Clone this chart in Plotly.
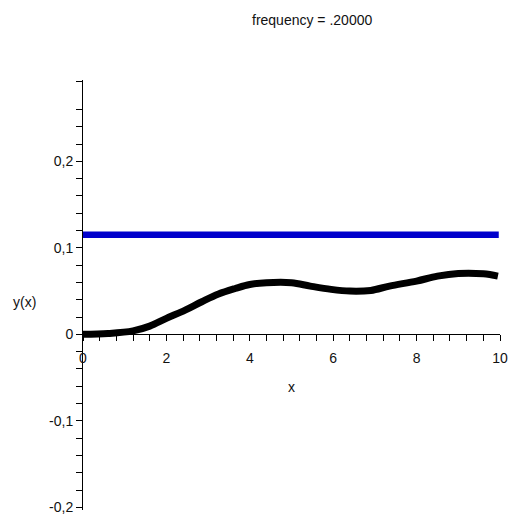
import plotly.graph_objects as go

# ---- data ----
curve_x = [0, 0.6, 1.2, 1.6, 2.0, 2.45, 2.85, 3.25, 3.65, 4.0, 4.4, 5.0,
           5.45, 5.95, 6.4, 6.9, 7.35, 8.0, 8.5, 9.0, 9.6, 9.95]
curve_y = [0, 0.001, 0.004, 0.0095, 0.0185, 0.028, 0.0377, 0.0466, 0.053,
           0.0577, 0.0597, 0.0597, 0.0558, 0.052, 0.050, 0.0508, 0.0558,
           0.0616, 0.0673, 0.0704, 0.070, 0.0673]
level_x = [0, 9.97]
level_y = [0.115, 0.115]

x_tickvals = [0, 2, 4, 6, 8, 10]
x_ticktext = ["0", "2", "4", "6", "8", "10"]
y_tickvals = [-0.2, -0.1, 0, 0.1, 0.2]
y_ticktext = ["-0,2", "-0,1", "0", "0,1", "0,2"]
y_minor = [-0.18, -0.16, -0.14, -0.12, -0.08, -0.06, -0.04, -0.02,
           0.02, 0.04, 0.06, 0.08, 0.12, 0.14, 0.16, 0.18,
           0.22, 0.24, 0.26, 0.292]
title_text = "frequency = .20000"
x_label = "x"
y_label = "y(x)"

Y_MIN, Y_MAX = -0.203, 0.294
FONT = "Liberation Sans, Arial, Helvetica, sans-serif"

fig = go.Figure()
fig.add_trace(go.Scatter(x=level_x, y=level_y, mode="lines",
                         line=dict(color="#0000cc", width=6.5),
                         showlegend=False, hoverinfo="skip"))
fig.add_trace(go.Scatter(x=curve_x, y=curve_y, mode="lines",
                         line=dict(color="#000000", width=7, shape="spline"),
                         showlegend=False, hoverinfo="skip"))

fig.update_layout(
    width=510, height=520,
    margin=dict(l=83, r=10, t=80, b=10, autoexpand=False),
    paper_bgcolor="white", plot_bgcolor="white",
    font=dict(family=FONT, size=14, color="#111111"),
    xaxis=dict(
        range=[0, 10], anchor="free", position=(0 - Y_MIN) / (Y_MAX - Y_MIN),
        showgrid=False, zeroline=False, showline=True, linecolor="black",
        linewidth=1, ticks="outside", ticklen=6, tickcolor="black",
        tickvals=x_tickvals, ticktext=x_ticktext, ticklabelstandoff=5,
        tickfont=dict(family=FONT, size=14, color="#111111"),
        minor=dict(dtick=0.4, tick0=0, ticks="outside", ticklen=6,
                   tickcolor="black", showgrid=False),
    ),
    yaxis=dict(
        range=[Y_MIN, Y_MAX], showgrid=False, zeroline=False, showline=True,
        linecolor="black", linewidth=1, ticks="outside", ticklen=6,
        tickcolor="black", tickvals=y_tickvals, ticktext=y_ticktext,
        tickfont=dict(family=FONT, size=14, color="#111111"),
        minor=dict(tickmode="array", tickvals=y_minor, ticks="outside",
                   ticklen=6, tickcolor="black", showgrid=False),
    ),
    annotations=[
        dict(text=title_text, xref="paper", yref="paper", x=0.549, y=1.1395,
             xanchor="center", yanchor="middle", showarrow=False,
             font=dict(family=FONT, size=14, color="#111111")),
        dict(text=x_label, xref="paper", yref="paper", x=0.501, y=0.286,
             xanchor="center", yanchor="middle", showarrow=False,
             font=dict(family=FONT, size=14, color="#111111")),
        dict(text=y_label, xref="paper", yref="paper", x=-0.108, y=0.4837,
             xanchor="right", yanchor="middle", showarrow=False,
             font=dict(family=FONT, size=14, color="#111111")),
    ],
)

fig.write_html("out.html",
               config={"displayModeBar": False, "staticPlot": True},
               post_script="document.body.style.margin='0';"
                           "document.body.style.overflow='hidden';")
